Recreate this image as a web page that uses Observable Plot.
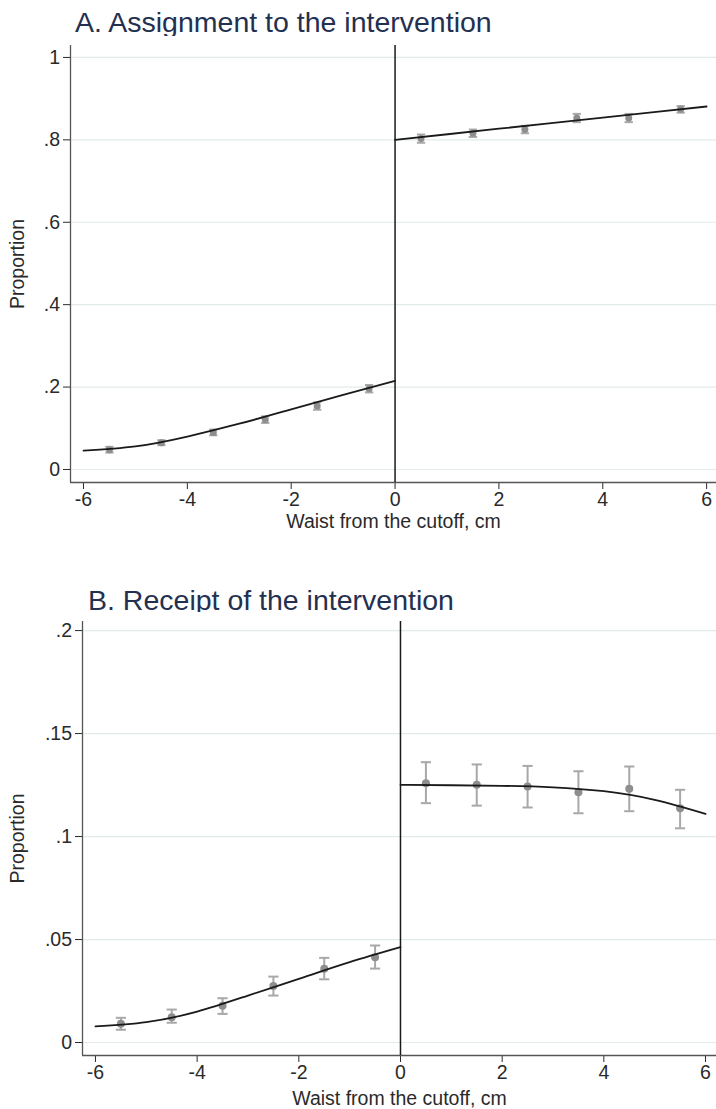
<!DOCTYPE html>
<html>
<head>
<meta charset="utf-8">
<script src="https://cdn.jsdelivr.net/npm/d3@7"></script>
<script src="https://cdn.jsdelivr.net/npm/@observablehq/plot@0.6"></script>
<style>
  html, body { margin: 0; padding: 0; background: #fff; }
  #wrap { position: relative; width: 716px; height: 1109px; overflow: hidden; font-family: "Liberation Sans", Arial, sans-serif; }
  .title { position: absolute; font-size: 28.5px; color: #24304f; line-height: 1; white-space: nowrap; }
  .panel { position: absolute; left: 0; }
  .panel text { fill: #2a2a2a; }
  .panel g[aria-label="x-axis tick label"], .panel g[aria-label="y-axis tick label"] { font-size: 19.5px !important; }
  .panel g[aria-label="x-axis label"], .panel g[aria-label="y-axis label"] { font-size: 19.5px !important; }
</style>
</head>
<body>
<div id="wrap">
  <div class="title" id="titleA" style="left:75px; top:8px;"></div>
  <div class="panel" id="panelA" style="top:36px;"></div>
  <div class="title" id="titleB" style="left:88px; top:586px;"></div>
  <div class="panel" id="panelB" style="top:612px;"></div>
</div>
<script>
// ---------- data ----------
const titleA = "A. Assignment to the intervention";
const titleB = "B. Receipt of the intervention";
const xLabel = "Waist from the cutoff, cm";
const yLabel = "Proportion";
const xTicks = [-6, -4, -2, 0, 2, 4, 6];
const xTickLabels = ["-6", "-4", "-2", "0", "2", "4", "6"];

const binCenters = [-5.5, -4.5, -3.5, -2.5, -1.5, -0.5, 0.5, 1.5, 2.5, 3.5, 4.5, 5.5];

// Panel A: assignment
const yTicksA = [0, 0.2, 0.4, 0.6, 0.8, 1];
const yTickLabelsA = ["0", ".2", ".4", ".6", ".8", "1"];
const meanA = [0.048, 0.065, 0.090, 0.121, 0.154, 0.196, 0.803, 0.816, 0.825, 0.853, 0.853, 0.874];
const ciHalfA = [0.007, 0.006, 0.007, 0.008, 0.009, 0.009, 0.010, 0.009, 0.009, 0.010, 0.010, 0.008];
const fitLeftXA = [-6, -5, -4, -3, -2, -1, 0];
const fitLeftA = [0.046, 0.056, 0.080, 0.111, 0.146, 0.181, 0.215];
const fitRightXA = [0, 2, 4, 6];
const fitRightA = [0.800, 0.827, 0.854, 0.881];

// Panel B: receipt
const yTicksB = [0, 0.05, 0.1, 0.15, 0.2];
const yTickLabelsB = ["0", ".05", ".1", ".15", ".2"];
const meanB = [0.0091, 0.0123, 0.0178, 0.0275, 0.0358, 0.0414, 0.1259, 0.1251, 0.1243, 0.1215, 0.1232, 0.1137];
const lowB  = [0.0062, 0.0096, 0.0139, 0.0228, 0.0307, 0.0359, 0.1162, 0.1150, 0.1141, 0.1113, 0.1123, 0.1040];
const highB = [0.0120, 0.0160, 0.0215, 0.0320, 0.0411, 0.0471, 0.1361, 0.1350, 0.1343, 0.1317, 0.1340, 0.1227];
const fitLeftXB = [-6, -5, -4, -3, -2, -1, 0];
const fitLeftB = [0.0078, 0.0099, 0.0150, 0.0228, 0.0309, 0.0390, 0.0463];
const fitRightXB = [0, 1, 2, 3, 4, 5, 6];
const fitRightB = [0.1251, 0.1249, 0.1246, 0.1239, 0.1220, 0.1178, 0.1110];

// ---------- build ----------
function panel(cfg) {
  const pts = binCenters.map((x, i) => ({x, y: cfg.mean[i], lo: cfg.lo[i], hi: cfg.hi[i]}));
  const left = cfg.fitLX.map((x, i) => ({x, y: cfg.fitL[i]}));
  const right = cfg.fitRX.map((x, i) => ({x, y: cfg.fitR[i]}));
  const cap = cfg.cap;
  return Plot.plot({
    width: 716,
    height: cfg.height,
    marginLeft: cfg.marginLeft,
    marginRight: 0,
    marginTop: cfg.marginTop,
    marginBottom: cfg.marginBottom,
    style: {fontFamily: '"Liberation Sans", Arial, sans-serif', fontSize: "19px", color: "#2a2a2a", background: "#fff"},
    x: {domain: cfg.xDomain, ticks: xTicks, tickFormat: d => xTickLabels[xTicks.indexOf(d)], tickSize: 7, tickPadding: 2.5,
        label: xLabel, labelAnchor: "center", labelOffset: cfg.xLabelOffset, labelArrow: false},
    y: {domain: cfg.yDomain, ticks: cfg.yTicks, tickFormat: d => cfg.yTickLabels[cfg.yTicks.indexOf(d)], tickSize: 7, tickPadding: 3.5,
        label: yLabel, labelAnchor: "center", labelOffset: cfg.yLabelOffset, labelArrow: false},
    marks: [
      Plot.ruleY(cfg.yTicks, {stroke: "#e3eaea", strokeWidth: 1.2}),
      Plot.ruleX([cfg.xDomain[0]], {stroke: "#555", strokeWidth: 1.3}),
      Plot.ruleY([cfg.yDomain[0]], {stroke: "#555", strokeWidth: 1.3}),
      Plot.ruleX(pts, {x: "x", y1: "lo", y2: "hi", stroke: "#a8a8a8", strokeWidth: 2}),
      Plot.link(pts, {x1: d => d.x - cap, x2: d => d.x + cap, y1: "lo", y2: "lo", stroke: "#a8a8a8", strokeWidth: 2}),
      Plot.link(pts, {x1: d => d.x - cap, x2: d => d.x + cap, y1: "hi", y2: "hi", stroke: "#a8a8a8", strokeWidth: 2}),
      Plot.dot(pts, {x: "x", y: "y", r: cfg.r, fill: "#8e8e8e", stroke: "none"}),
      Plot.ruleX([0], {stroke: "#1a1a1a", strokeWidth: 1.5}),
      Plot.line(left, {x: "x", y: "y", curve: "natural", stroke: "#1a1a1a", strokeWidth: 1.8}),
      Plot.line(right, {x: "x", y: "y", curve: "natural", stroke: "#1a1a1a", strokeWidth: 1.8})
    ]
  });
}

document.getElementById("titleA").textContent = titleA;
document.getElementById("titleB").textContent = titleB;

document.getElementById("panelA").appendChild(panel({
  height: 499, marginLeft: 70, marginTop: 9, marginBottom: 53,
  xDomain: [-6.25, 6.19], yDomain: [-0.0316, 1.029],
  yTicks: yTicksA, yTickLabels: yTickLabelsA,
  xLabelOffset: 45, yLabelOffset: 60,
  mean: meanA, lo: meanA.map((m, i) => m - ciHalfA[i]), hi: meanA.map((m, i) => m + ciHalfA[i]),
  fitLX: fitLeftXA, fitL: fitLeftA, fitRX: fitRightXA, fitR: fitRightA,
  cap: 0.08, r: 3.5
}));

document.getElementById("panelB").appendChild(panel({
  height: 497, marginLeft: 82, marginTop: 9, marginBottom: 54,
  xDomain: [-6.255, 6.216], yDomain: [-0.0063, 0.2044],
  yTicks: yTicksB, yTickLabels: yTickLabelsB,
  xLabelOffset: 49, yLabelOffset: 72,
  mean: meanB, lo: lowB, hi: highB,
  fitLX: fitLeftXB, fitL: fitLeftB, fitRX: fitRightXB, fitR: fitRightB,
  cap: 0.1, r: 4
}));
</script>
</body>
</html>
